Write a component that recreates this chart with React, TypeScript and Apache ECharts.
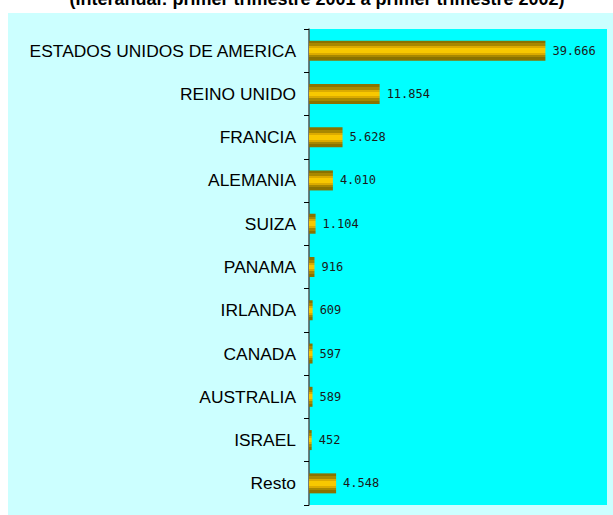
import React, { useEffect, useRef } from "react";
import * as echarts from "echarts";

const title = "(Interanual: primer trimestre 2001 a primer trimestre 2002)";
const countries = [
  "ESTADOS UNIDOS DE AMERICA",
  "REINO UNIDO",
  "FRANCIA",
  "ALEMANIA",
  "SUIZA",
  "PANAMA",
  "IRLANDA",
  "CANADA",
  "AUSTRALIA",
  "ISRAEL",
  "Resto",
];
const values = [39666, 11854, 5628, 4010, 1104, 916, 609, 597, 589, 452, 4548];

const fmt = (v: number) => {
  const s = String(Math.round(v));
  return s.replace(/\B(?=(\d{3})+(?!\d))/g, ".");
};

export default function App() {
  const ref = useRef<HTMLDivElement>(null);
  useEffect(() => {
    if (!ref.current) return;
    const chart = echarts.init(ref.current, undefined, { renderer: "svg" });
    const stripes = new echarts.graphic.LinearGradient(0, 0, 0, 1, [
      { offset: 0, color: "#8a7200" },
      { offset: 0.14, color: "#8a7200" },
      { offset: 0.14, color: "#a88800" },
      { offset: 0.28, color: "#a88800" },
      { offset: 0.28, color: "#dcab00" },
      { offset: 0.38, color: "#dcab00" },
      { offset: 0.38, color: "#f8c800" },
      { offset: 0.62, color: "#f8c800" },
      { offset: 0.62, color: "#dcab00" },
      { offset: 0.72, color: "#dcab00" },
      { offset: 0.72, color: "#a88800" },
      { offset: 0.84, color: "#a88800" },
      { offset: 0.84, color: "#8a7200" },
      { offset: 1, color: "#8a7200" },
    ]);
    chart.setOption({
      animation: false,
      backgroundColor: "#ffffff",
      graphic: [
        {
          type: "rect",
          z: -10,
          silent: true,
          shape: { x: 8, y: 13, width: 605, height: 502 },
          style: { fill: "#ccffff" },
        },
        {
          type: "text",
          x: 317,
          y: -1,
          style: {
            text: title,
            font: "bold 18px 'Liberation Sans', Arial, sans-serif",
            fill: "#000",
            align: "center",
            verticalAlign: "middle",
          },
        },
      ],
      grid: {
        left: 309,
        right: 6,
        top: 29,
        bottom: 10,
        show: true,
        backgroundColor: "#00ffff",
        borderWidth: 0,
      },
      xAxis: {
        type: "value",
        min: 0,
        max: 50000,
        show: false,
      },
      yAxis: {
        type: "category",
        data: countries,
        inverse: true,
        axisLine: { show: true, lineStyle: { color: "#505050", width: 1.5 } },
        axisTick: { show: true, length: 5, lineStyle: { color: "#000" } },
        axisLabel: {
          margin: 13,
          color: "#000",
          fontSize: 17.4,
          fontFamily: "'Liberation Sans', Arial, sans-serif",
        },
        splitLine: { show: false },
      },
      series: [
        {
          type: "bar",
          data: values,
          barWidth: 20,
          itemStyle: { color: stripes },
          label: {
            show: true,
            position: "right",
            distance: 7,
            color: "#1a1a1a",
            fontSize: 12,
            fontFamily: "'DejaVu Sans Mono', monospace",
            formatter: (p: any) => fmt(p.value),
          },
        },
      ],
    });
    return () => chart.dispose();
  }, []);
  return (
    <div
      ref={ref}
      style={{ position: "fixed", left: 0, top: 0, width: 613, height: 515 }}
    />
  );
}
